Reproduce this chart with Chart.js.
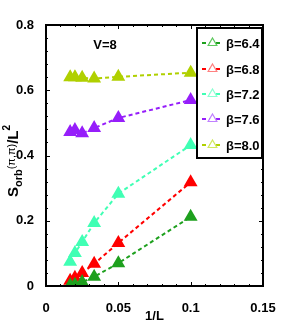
<!DOCTYPE html>
<html><head><meta charset="utf-8">
<script src="https://cdn.jsdelivr.net/npm/chart.js@4/dist/chart.umd.min.js"></script>
<style>html,body{margin:0;padding:0;background:#fff}#wrap{width:291px;height:332px}</style>
</head><body><div id="wrap"><canvas id="c" width="291" height="332"></canvas></div>
<script>
const invL = [0.0167, 0.02, 0.025, 0.0333, 0.05, 0.1];
const labels = ['β=6.4', 'β=6.8', 'β=7.2', 'β=7.6', 'β=8.0'];
const beta64 = [0.002, 0.004, 0.012, 0.028, 0.070, 0.212];
const beta68 = [0.016, 0.025, 0.040, 0.068, 0.132, 0.318];
const beta72 = [0.074, 0.101, 0.135, 0.193, 0.283, 0.432];
const beta76 = [0.472, 0.478, 0.468, 0.484, 0.515, 0.570];
const beta80 = [0.640, 0.640, 0.638, 0.636, 0.641, 0.654];
const xTicks = [0, 0.05, 0.1, 0.15];
const yTicks = [0, 0.2, 0.4, 0.6, 0.8];
const colors = ['#1ea01e', '#ff0000', '#40ffb4', '#961efa', '#b0d000'];
const lightColors = ['#5ec85e', '#ff8080', '#8cffd2', '#c080ff', '#d0e860'];
const series = [beta64, beta68, beta72, beta76, beta80];

const FONT = 'Liberation Sans, Arial, sans-serif';

const datasets = series.map((s, i) => ({
  label: labels[i],
  data: invL.map((x, j) => ({x: x, y: s[j]})),
  borderColor: colors[i],
  backgroundColor: colors[i],
  borderWidth: 2,
  borderDash: [4, 3],
  pointStyle: 'triangle',
  pointRadius: 5.5,
  pointBorderWidth: 2.5,
  pointBackgroundColor: colors[i],
  pointBorderColor: colors[i],
  tension: 0,
  fill: false
}));

const decor = {
  id: 'decor',
  afterDatasetsDraw(chart) {
    const ctx = chart.ctx;
    const a = chart.chartArea;
    const xs = chart.scales.x, ys = chart.scales.y;
    ctx.save();
    // ticks
    ctx.strokeStyle = '#000';
    ctx.lineWidth = 1;
    for (let v = 0; v <= 0.8001; v += 0.04) {
      const y = Math.round(ys.getPixelForValue(v)) + 0.5;
      const major = Math.abs(v / 0.2 - Math.round(v / 0.2)) < 1e-6;
      const len = major ? 4 : 2;
      ctx.beginPath();
      ctx.moveTo(a.left, y); ctx.lineTo(a.left + len, y);
      ctx.moveTo(a.right, y); ctx.lineTo(a.right - len, y);
      ctx.stroke();
    }
    for (let v = 0; v <= 0.1501; v += 0.01) {
      const x = Math.round(xs.getPixelForValue(v)) + 0.5;
      const major = Math.abs(v / 0.05 - Math.round(v / 0.05)) < 1e-6;
      const len = major ? 4 : 2;
      ctx.beginPath();
      ctx.moveTo(x, a.bottom); ctx.lineTo(x, a.bottom - len);
      ctx.moveTo(x, a.top); ctx.lineTo(x, a.top + len);
      ctx.stroke();
    }
    // frame
    ctx.lineWidth = 2;
    ctx.strokeRect(a.left, a.top, a.right - a.left, a.bottom - a.top);

    // V=8
    ctx.fillStyle = '#000';
    ctx.font = 'bold 13px ' + FONT;
    ctx.textAlign = 'center';
    ctx.textBaseline = 'middle';
    ctx.fillText('V=8', 105, 45);

    // legend
    const lx = 197, ly = 28, lw = 65, lh = 130;
    ctx.fillStyle = '#fff';
    ctx.fillRect(lx, ly, lw, lh);
    ctx.lineWidth = 2;
    ctx.strokeStyle = '#000';
    ctx.strokeRect(lx, ly, lw, lh);
    const rowY = [43, 69, 94, 119, 145];
    chart.data.datasets.forEach((d, i) => {
      const y = rowY[i];
      ctx.strokeStyle = colors[i];
      ctx.lineWidth = 2;
      ctx.setLineDash([4, 3]);
      ctx.beginPath(); ctx.moveTo(202, y); ctx.lineTo(223, y); ctx.stroke();
      ctx.setLineDash([]);
      // hollow triangle
      ctx.fillStyle = '#fff';
      ctx.strokeStyle = lightColors[i];
      ctx.lineWidth = 1.2;
      const r = 5;
      ctx.beginPath();
      ctx.moveTo(212.5, y - r);
      ctx.lineTo(212.5 + r * 0.87, y + r * 0.5);
      ctx.lineTo(212.5 - r * 0.87, y + r * 0.5);
      ctx.closePath();
      ctx.fill(); ctx.stroke();
      ctx.fillStyle = '#000';
      ctx.textAlign = 'left';
      ctx.font = 'bold 13px ' + FONT;
      ctx.fillText(d.label, 226, y + 1);
    });

    // y axis label
    ctx.save();
    ctx.translate(18, 161);
    ctx.rotate(-Math.PI / 2);
    ctx.fillStyle = '#000';
    ctx.textBaseline = 'alphabetic';
    ctx.textAlign = 'left';
    const parts = [
      {t: 'S', f: 'bold 15px ' + FONT, dy: 0},
      {t: 'orb', f: 'bold 11px ' + FONT, dy: 4},
      {t: '(π,π)', f: '11px ' + FONT, dy: -3},
      {t: '/L', f: 'bold 15px ' + FONT, dy: 0},
      {t: '2', f: 'bold 10px ' + FONT, dy: -8}
    ];
    let total = 0;
    parts.forEach(p => { ctx.font = p.f; p.w = ctx.measureText(p.t).width; total += p.w; });
    let x = -total / 2;
    parts.forEach(p => { ctx.font = p.f; ctx.fillText(p.t, x, p.dy); x += p.w; });
    ctx.restore();
    ctx.restore();
  }
};

new Chart(document.getElementById('c'), {
  type: 'line',
  data: {datasets},
  options: {
    responsive: false,
    animation: false,
    devicePixelRatio: 1,
    layout: {padding: {top: 25, right: 28, left: 0, bottom: 0}},
    plugins: {legend: {display: false}, tooltip: {enabled: false}},
    scales: {
      x: {
        type: 'linear', min: 0, max: 0.15,
        afterBuildTicks: (s) => { s.ticks = xTicks.map(v => ({value: v})); },
        afterFit: (s) => { s.height = 46; },
        grid: {display: false},
        border: {display: false},
        ticks: {color: '#000', font: {family: FONT, size: 13, weight: 'bold'}, padding: 7, maxRotation: 0,
          callback: (v) => String(v)},
        title: {display: true, text: '1/L', color: '#000', font: {family: FONT, size: 13, weight: 'bold'}, padding: {top: 0, bottom: 8}}
      },
      y: {
        type: 'linear', min: 0, max: 0.8,
        afterBuildTicks: (s) => { s.ticks = yTicks.map(v => ({value: v})); },
        afterFit: (s) => { s.width = 46; },
        grid: {display: false},
        border: {display: false},
        ticks: {color: '#000', font: {family: FONT, size: 13, weight: 'bold'}, padding: 4,
          callback: (v) => String(v)}
      }
    }
  },
  plugins: [decor]
});
</script>
</body></html>
